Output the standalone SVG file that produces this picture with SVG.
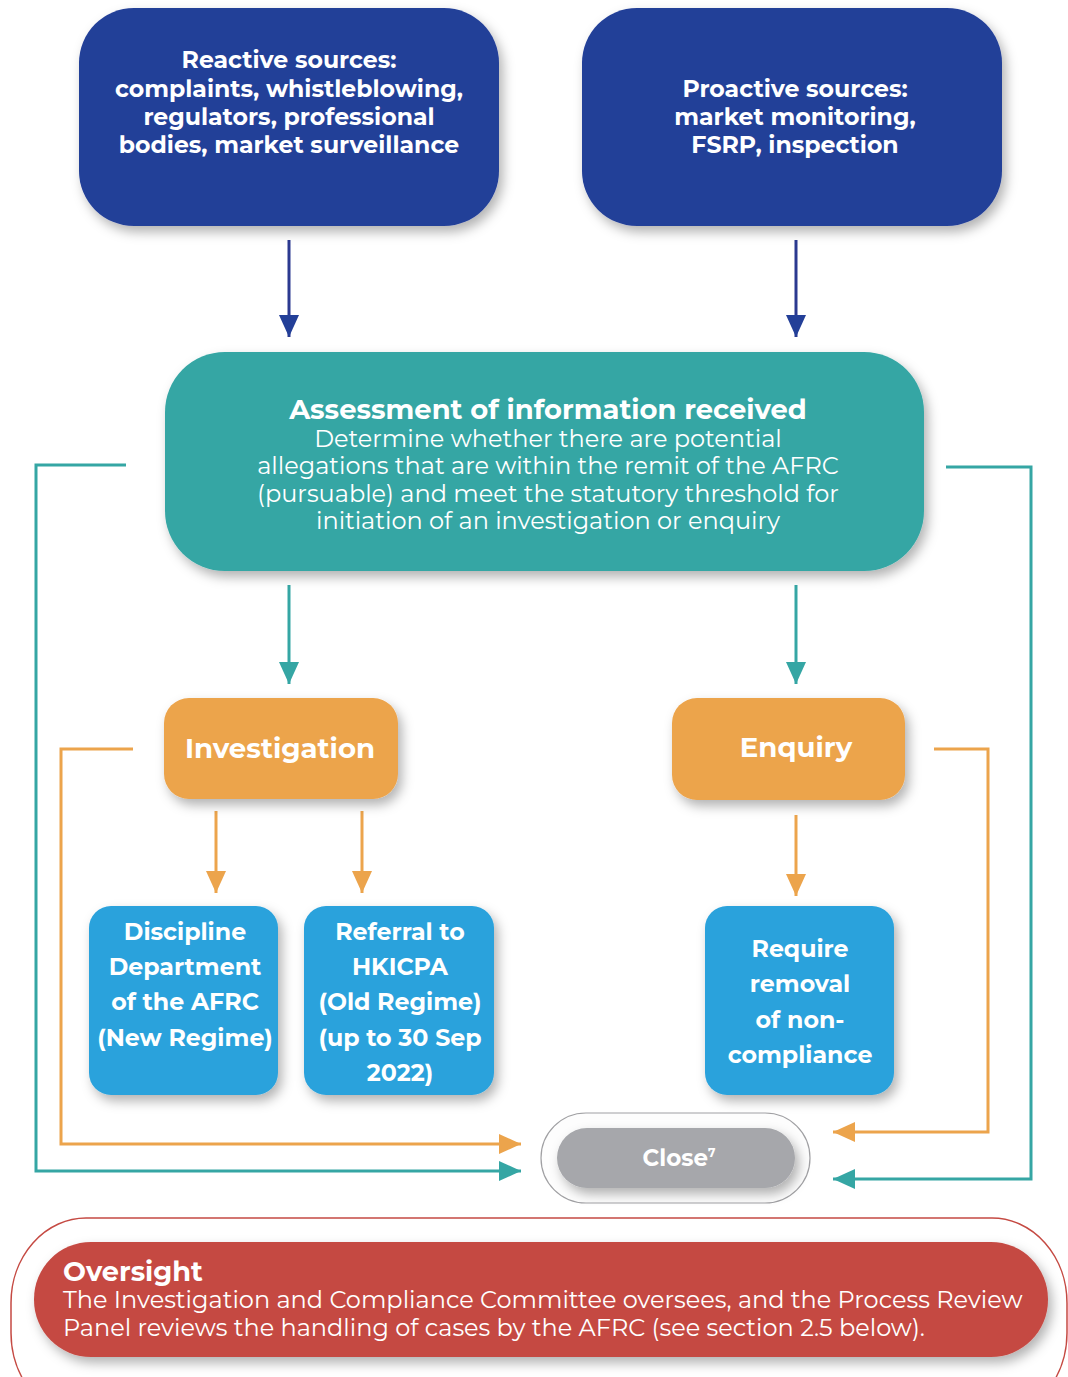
<svg xmlns="http://www.w3.org/2000/svg" width="1068" height="1377" viewBox="0 0 1068 1377">
<style>
.t{font-family:Montserrat,"Open Sans","Noto Sans","Liberation Sans",sans-serif;fill:#fff;text-anchor:middle}
.b{font-weight:700}
.r{font-weight:400}
.c{fill:none;stroke-width:3}
</style>
<defs>
<filter id="sh" x="-20%" y="-20%" width="140%" height="150%">
<feDropShadow dx="4" dy="6" stdDeviation="6" flood-color="#000" flood-opacity="0.3"/>
</filter>
<marker id="mN" markerUnits="userSpaceOnUse" markerWidth="22" markerHeight="22" viewBox="0 0 22 22" refX="22" refY="11" orient="auto"><path d="M0,1 L22,11 L0,21 Z" fill="#233f98"/></marker>
<marker id="mT" markerUnits="userSpaceOnUse" markerWidth="22" markerHeight="22" viewBox="0 0 22 22" refX="22" refY="11" orient="auto"><path d="M0,1 L22,11 L0,21 Z" fill="#35a6a4"/></marker>
<marker id="mO" markerUnits="userSpaceOnUse" markerWidth="22" markerHeight="22" viewBox="0 0 22 22" refX="22" refY="11" orient="auto"><path d="M0,1 L22,11 L0,21 Z" fill="#eca44c"/></marker>
</defs>
<rect width="1068" height="1377" fill="#fff"/>

<g id="connectors">
<line class="c" x1="289" y1="240" x2="289" y2="337" stroke="#2b3990" marker-end="url(#mN)"/>
<line class="c" x1="796" y1="240" x2="796" y2="337" stroke="#2b3990" marker-end="url(#mN)"/>
<line class="c" x1="289" y1="585" x2="289" y2="684" stroke="#35a6a4" marker-end="url(#mT)"/>
<line class="c" x1="796" y1="585" x2="796" y2="684" stroke="#35a6a4" marker-end="url(#mT)"/>
<polyline class="c" points="126,465 36,465 36,1171 521,1171" stroke="#35a6a4" marker-end="url(#mT)"/>
<polyline class="c" points="946,467 1031,467 1031,1179 833,1179" stroke="#35a6a4" marker-end="url(#mT)"/>
<polyline class="c" points="133,749 61,749 61,1144 521,1144" stroke="#eca44c" marker-end="url(#mO)"/>
<polyline class="c" points="934,749 988,749 988,1132 833,1132" stroke="#eca44c" marker-end="url(#mO)"/>
<line class="c" x1="216" y1="811" x2="216" y2="893" stroke="#eca44c" marker-end="url(#mO)"/>
<line class="c" x1="362" y1="811" x2="362" y2="893" stroke="#eca44c" marker-end="url(#mO)"/>
<line class="c" x1="796" y1="815" x2="796" y2="896" stroke="#eca44c" marker-end="url(#mO)"/>
</g>

<g id="reactive">
<rect x="79" y="8" width="420" height="218" rx="55" fill="#233f98" filter="url(#sh)"/>
<text class="t b" font-size="23.6"><tspan x="289" y="68">Reactive sources:</tspan><tspan x="289" y="97">complaints, whistleblowing,</tspan><tspan x="289" y="125">regulators, professional</tspan><tspan x="289" y="153">bodies, market surveillance</tspan></text>
</g>
<g id="proactive">
<rect x="582" y="8" width="420" height="218" rx="55" fill="#233f98" filter="url(#sh)"/>
<text class="t b" font-size="23.6"><tspan x="795" y="97">Proactive sources:</tspan><tspan x="795" y="125">market monitoring,</tspan><tspan x="795" y="153">FSRP, inspection</tspan></text>
</g>
<g id="assessment">
<rect x="165" y="352" width="759" height="219" rx="60" fill="#35a6a4" filter="url(#sh)"/>
<text class="t b" font-size="27.4" x="548" y="419">Assessment of information received</text>
<text class="t r" font-size="24"><tspan x="548" y="447">Determine whether there are potential</tspan><tspan x="548" y="474">allegations that are within the remit of the AFRC</tspan><tspan x="548" y="502">(pursuable) and meet the statutory threshold for</tspan><tspan x="548" y="529">initiation of an investigation or enquiry</tspan></text>
</g>
<g id="investigation">
<rect x="164" y="698" width="234" height="101" rx="25" fill="#eca44c" filter="url(#sh)"/>
<text class="t b" font-size="27.6" x="280" y="758">Investigation</text>
</g>
<g id="enquiry">
<rect x="672" y="698" width="233" height="102" rx="25" fill="#eca44c" filter="url(#sh)"/>
<text class="t b" font-size="27.6" x="796" y="757">Enquiry</text>
</g>
<g id="discipline">
<rect x="89" y="906" width="189" height="189" rx="22" fill="#2ca2dc" filter="url(#sh)"/>
<text class="t b" font-size="23.7"><tspan x="185" y="940">Discipline</tspan><tspan x="185" y="975">Department</tspan><tspan x="185" y="1010">of the AFRC</tspan><tspan x="185" y="1046">(New Regime)</tspan></text>
</g>
<g id="referral">
<rect x="304" y="906" width="190" height="189" rx="22" fill="#2ca2dc" filter="url(#sh)"/>
<text class="t b" font-size="23.7"><tspan x="400" y="940">Referral to</tspan><tspan x="400" y="975">HKICPA</tspan><tspan x="400" y="1010">(Old Regime)</tspan><tspan x="400" y="1046">(up to 30 Sep</tspan><tspan x="400" y="1081">2022)</tspan></text>
</g>
<g id="require">
<rect x="705" y="906" width="189" height="189" rx="22" fill="#2ca2dc" filter="url(#sh)"/>
<text class="t b" font-size="23.7"><tspan x="800" y="957">Require</tspan><tspan x="800" y="992">removal</tspan><tspan x="800" y="1028">of non-</tspan><tspan x="800" y="1063">compliance</tspan></text>
</g>
<g id="close">
<rect x="541" y="1113" width="269" height="90" rx="45" fill="#fdfdfd" stroke="#a0a0a3" stroke-width="1.2"/>
<rect x="557" y="1128" width="238" height="60" rx="30" fill="#a6a7ab" filter="url(#sh)"/>
<text class="t b" font-size="23" x="679" y="1166">Close<tspan font-size="12" dy="-9">7</tspan></text>
</g>
<g id="oversight">
<rect x="11" y="1218" width="1056" height="200" rx="75" ry="85" fill="#fff" stroke="#c54a43" stroke-width="1.5"/>
<rect x="34" y="1242" width="1014" height="115" rx="57" fill="#c54a43" filter="url(#sh)"/>
<text class="t b" font-size="27.2" x="63" y="1281" style="text-anchor:start">Oversight</text>
<text class="t r" font-size="24" style="text-anchor:start"><tspan x="63" y="1308">The Investigation and Compliance Committee oversees, and the Process Review</tspan><tspan x="63" y="1336">Panel reviews the handling of cases by the AFRC (see section 2.5 below).</tspan></text>
</g>
</svg>
